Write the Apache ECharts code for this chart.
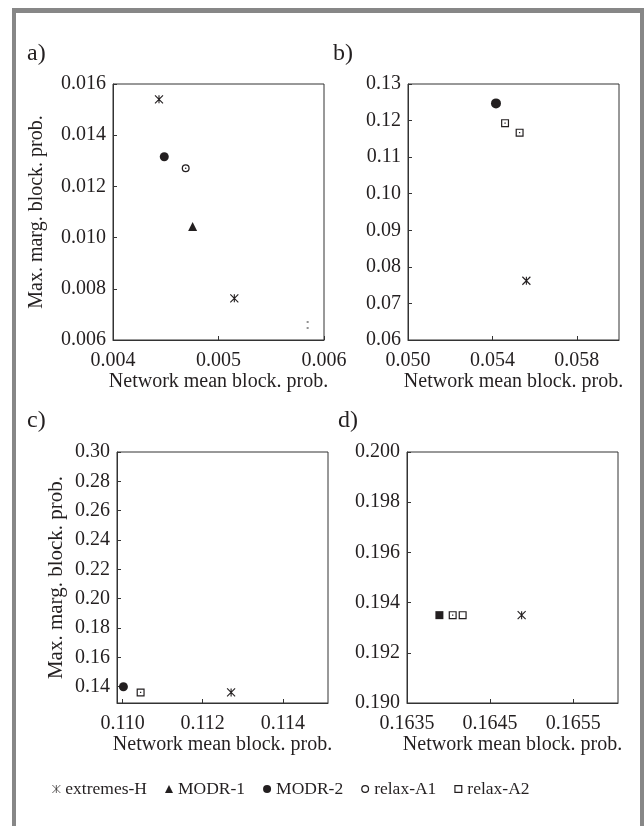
<!DOCTYPE html>
<html>
<head>
<meta charset="utf-8">
<script src="https://cdn.jsdelivr.net/npm/echarts@6/dist/echarts.min.js"></script>
<style>
  html, body { margin: 0; padding: 0; background: #fff; }
  #main { width: 644px; height: 826px; }
</style>
</head>
<body>
<div id="main"></div>
<script>
// ---- data ----
const methods = ['extremes-H', 'MODR-1', 'MODR-2', 'relax-A1', 'relax-A2'];

// panel a
const aExtremesH = [[0.004436, 0.01540], [0.005150, 0.00763]];
const aModr1 = [[0.004755, 0.01043]];
const aModr2 = [[0.004486, 0.01316]];
const aRelaxA1 = [[0.004689, 0.01271]];
const aFaint = [[0.005845, 0.00659]];
const aXTicks = [0.004, 0.005, 0.006];
const aYTicks = [0.006, 0.008, 0.010, 0.012, 0.014, 0.016];

// panel b
const bExtremesH = [[0.05561, 0.0762]];
const bModr2 = [[0.05417, 0.1247]];
const bRelaxA2 = [[0.05460, 0.1193], [0.05529, 0.1167]];
const bXTicks = [0.050, 0.054, 0.058];
const bYTicks = [0.06, 0.07, 0.08, 0.09, 0.10, 0.11, 0.12, 0.13];

// panel c
const cExtremesH = [[0.11271, 0.1361]];
const cModr2 = [[0.11002, 0.1400]];
const cRelaxA2 = [[0.11045, 0.1361]];
const cXTicks = [0.110, 0.112, 0.114];
const cYTicks = [0.14, 0.16, 0.18, 0.20, 0.22, 0.24, 0.26, 0.28, 0.30];

// panel d
const dExtremesH = [[0.16488, 0.1935]];
const dModr2 = [[0.16389, 0.1935]];
const dRelaxA1 = [[0.16405, 0.1935]];
const dRelaxA2 = [[0.16417, 0.1935]];
const dXTicks = [0.1635, 0.1645, 0.1655];
const dYTicks = [0.190, 0.192, 0.194, 0.196, 0.198, 0.200];

// ---- styles ----
const FONT = "'Liberation Serif', 'Times New Roman', serif";
const INK = '#231f20';
const FRAME = '#878787';

// symbol shapes (filled paths, holes by winding)
const STAR = 'path://M0 0L10 10M10 0L0 10M5 0L5 10';
const RING = 'path://M5 0A5 5 0 1 1 5 10A5 5 0 1 1 5 0ZM5 1.6A3.4 3.4 0 1 0 5 8.4A3.4 3.4 0 1 0 5 1.6Z';
const RING_DOT = RING + 'M5 4A1 1 0 1 1 5 6A1 1 0 1 1 5 4Z';
const SQUARE = 'path://M0 0H10V10H0ZM1.5 1.5V8.5H8.5V1.5Z';
const SQUARE_DOT = SQUARE + 'M4.2 4.2H5.8V5.8H4.2Z';
const DOTS = 'path://M0 0H2V2H0ZM0 6H2V8H0Z';

function scatter(name, idx, data, symbol, size, extra) {
  const s = {
    name: name,
    type: 'scatter',
    xAxisIndex: idx,
    yAxisIndex: idx,
    data: data,
    symbol: symbol,
    symbolSize: size,
    itemStyle: { color: INK, opacity: 1 },
    emphasis: { disabled: true },
    z: 5
  };
  if (symbol === STAR) {
    s.itemStyle.borderColor = INK;
    s.itemStyle.borderWidth = 1.1;
  }
  return Object.assign(s, extra || {});
}

function xAxis(idx, min, max, ticks, dec) {
  return {
    type: 'value', gridIndex: idx, min: min, max: max,
    name: 'Network mean block. prob.', nameLocation: 'middle', nameGap: 31,
    nameTextStyle: { fontFamily: FONT, fontSize: 20, color: INK },
    axisLine: { show: true, onZero: false, lineStyle: { color: '#333', width: 1 } },
    axisTick: { show: true, inside: true, length: 4, customValues: ticks, lineStyle: { color: '#333' } },
    axisLabel: {
      customValues: ticks, margin: 11, fontFamily: FONT, fontSize: 20, color: INK,
      formatter: v => v.toFixed(dec)
    },
    splitLine: { show: false }
  };
}

function yAxis(idx, min, max, ticks, dec, name, gap, nameSize) {
  return {
    type: 'value', gridIndex: idx, min: min, max: max,
    name: name || '', nameLocation: 'middle', nameGap: gap || 0,
    nameTextStyle: { fontFamily: FONT, fontSize: nameSize || 20, color: INK },
    axisLine: { show: true, onZero: false, lineStyle: { color: '#333', width: 1 } },
    axisTick: { show: true, inside: true, length: 4, customValues: ticks, lineStyle: { color: '#333' } },
    axisLabel: {
      customValues: ticks, margin: 7, fontFamily: FONT, fontSize: 20, color: INK,
      formatter: v => v.toFixed(dec)
    },
    splitLine: { show: false }
  };
}

const gridBase = { show: true, borderColor: '#333', borderWidth: 1, backgroundColor: '#fff', containLabel: false, outerBoundsMode: 'none' };
const yName = 'Max. marg. block. prob.';

const chart = echarts.init(document.getElementById('main'), null, { renderer: 'canvas' });

chart.setOption({
  backgroundColor: '#fff',
  animation: false,
  textStyle: { fontFamily: FONT },
  grid: [
    Object.assign({ left: 113, top: 84, width: 211, height: 256 }, gridBase),
    Object.assign({ left: 408, top: 84, width: 211, height: 256 }, gridBase),
    Object.assign({ left: 117, top: 452, width: 211, height: 251 }, gridBase),
    Object.assign({ left: 407, top: 452, width: 211, height: 251 }, gridBase)
  ],
  xAxis: [
    xAxis(0, 0.004, 0.006, aXTicks, 3),
    xAxis(1, 0.050, 0.060, bXTicks, 3),
    xAxis(2, 0.10986, 0.11513, cXTicks, 3),
    xAxis(3, 0.1635, 0.16604, dXTicks, 4)
  ],
  yAxis: [
    yAxis(0, 0.006, 0.016, aYTicks, 3, yName, 66, 20),
    yAxis(1, 0.06, 0.13, bYTicks, 2),
    yAxis(2, 0.1289, 0.30, cYTicks, 2, yName, 50, 21),
    yAxis(3, 0.190, 0.200, dYTicks, 3)
  ],
  legend: {
    left: 47, top: 775,
    itemWidth: 8, itemHeight: 8, itemGap: 18,
    selectedMode: false,
    textStyle: { fontFamily: FONT, fontSize: 17.5, color: INK },
    data: [
      { name: methods[0], icon: STAR, itemStyle: { borderWidth: 0.7 } },
      { name: methods[1], icon: 'triangle' },
      { name: methods[2], icon: 'circle' },
      { name: methods[3], icon: RING },
      { name: methods[4], icon: SQUARE }
    ]
  },
  graphic: [
    { type: 'rect', shape: { x: 12, y: 8, width: 632, height: 5 }, style: { fill: FRAME } },
    { type: 'rect', shape: { x: 12, y: 8, width: 4, height: 818 }, style: { fill: FRAME } },
    { type: 'rect', shape: { x: 640, y: 8, width: 4, height: 818 }, style: { fill: FRAME } },
    { type: 'text', left: 27, top: 42, style: { text: 'a)', font: '24px ' + FONT, fill: INK } },
    { type: 'text', left: 333, top: 42, style: { text: 'b)', font: '24px ' + FONT, fill: INK } },
    { type: 'text', left: 27, top: 409, style: { text: 'c)', font: '24px ' + FONT, fill: INK } },
    { type: 'text', left: 338, top: 409, style: { text: 'd)', font: '24px ' + FONT, fill: INK } }
  ],
  series: [
    scatter(methods[0], 0, aExtremesH, STAR, 8),
    scatter(methods[1], 0, aModr1, 'triangle', 9),
    scatter(methods[2], 0, aModr2, 'circle', 9),
    scatter(methods[3], 0, aRelaxA1, RING_DOT, 8),
    scatter('', 0, aFaint, DOTS, [2, 8], { itemStyle: { color: '#777' } }),

    scatter(methods[0], 1, bExtremesH, STAR, 8),
    scatter(methods[2], 1, bModr2, 'circle', 10),
    scatter(methods[4], 1, bRelaxA2, SQUARE_DOT, 8),

    scatter(methods[0], 2, cExtremesH, STAR, 8),
    scatter(methods[2], 2, cModr2, 'circle', 9),
    scatter(methods[4], 2, cRelaxA2, SQUARE_DOT, 8),

    scatter(methods[0], 3, dExtremesH, STAR, 8),
    scatter(methods[2], 3, dModr2, 'rect', 8),
    scatter(methods[3], 3, dRelaxA1, SQUARE_DOT, 8),
    scatter(methods[4], 3, dRelaxA2, SQUARE, 8)
  ]
});
</script>
</body>
</html>
